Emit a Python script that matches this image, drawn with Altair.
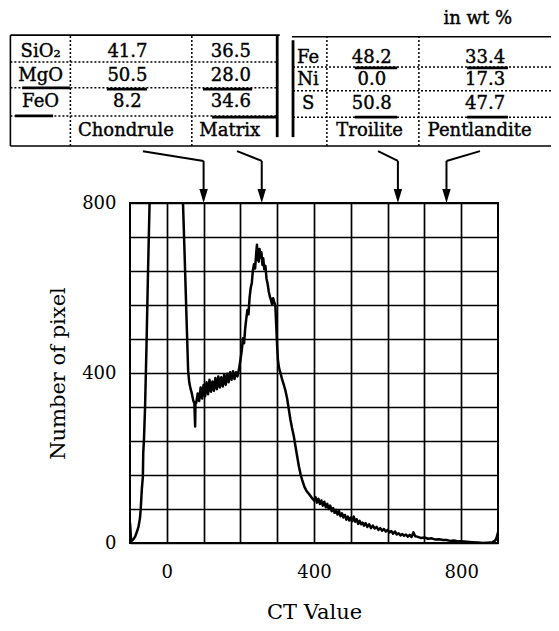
import altair as alt
import pandas as pd

FONT = "DejaVu Serif"

# ---------------- histogram (CT value, number of pixels) ----------------
left_peak = [(-100, 48), (-99, 36), (-98, 20), (-97, 4), (-94, 6), (-90, 10), (-86, 15),
             (-81, 27), (-77, 38), (-73, 58), (-71, 78), (-68, 125), (-65, 156), (-64, 212),
             (-62, 245), (-59, 321), (-55, 470), (-51, 640), (-47, 791), (-44, 900),
             (-20, 1850), (10, 1850), (40, 920), (44, 800), (48, 690), (52, 575), (55, 490),
             (58, 405), (61, 378), (64, 365), (68, 352), (72, 335), (75, 328), (77, 274),
             (78, 332)]
plateau = [(80, 330), (84, 352), (88, 334), (92, 366), (96, 340), (100, 372), (104, 345),
           (108, 378), (112, 350), (116, 384), (120, 356), (124, 380), (128, 358), (132, 388),
           (136, 362), (140, 392), (144, 366), (148, 390), (152, 368), (156, 396), (160, 372),
           (164, 398), (168, 378), (172, 402), (176, 384), (180, 404), (184, 386), (188, 402),
           (192, 392), (196, 408)]
matrix_peak = [(200, 430), (204, 455), (207, 482), (210, 470), (213, 505), (216, 528),
               (219, 548), (222, 538), (225, 578), (228, 600), (231, 612), (234, 642),
               (237, 656), (240, 646), (243, 682), (245, 702), (247, 670), (250, 662),
               (252, 692), (254, 672), (257, 684), (260, 654), (262, 670), (265, 644),
               (268, 652), (271, 622), (274, 610), (277, 592), (280, 580), (283, 572),
               (286, 562), (289, 576), (292, 566), (295, 558), (298, 500), (300, 460),
               (302, 430), (305, 412), (309, 400), (313, 386), (318, 372), (322, 360),
               (327, 340), (332, 312), (336, 290), (340, 272), (345, 252), (350, 226),
               (355, 200), (359, 180), (364, 160), (368, 148), (374, 132), (380, 122),
               (386, 116), (391, 110), (396, 104), (400, 100)]
tail = [(404, 108), (408, 95), (412, 104), (416, 92), (420, 100), (424, 88), (428, 97),
        (432, 84), (436, 92), (440, 80), (444, 88), (448, 75), (452, 82), (456, 71),
        (460, 78), (464, 67), (468, 75), (472, 63), (476, 70), (480, 60), (484, 66),
        (488, 55), (492, 62), (496, 53), (500, 60), (504, 51), (508, 62), (512, 50),
        (516, 56), (520, 45), (524, 52), (528, 44), (532, 48), (536, 41), (540, 47),
        (545, 38), (550, 44), (555, 35), (560, 41), (565, 34), (570, 38), (575, 31),
        (580, 35), (585, 29), (590, 33), (595, 27), (600, 31), (605, 25), (610, 28),
        (615, 22), (620, 27), (625, 20), (630, 23), (635, 18), (640, 21), (645, 17),
        (650, 20), (655, 15), (660, 19), (665, 14), (670, 25), (675, 16), (680, 15),
        (690, 12), (700, 13), (710, 10), (720, 11), (730, 8), (740, 9), (750, 7),
        (760, 7), (770, 5), (780, 6), (790, 4), (800, 4), (815, 3), (830, 2), (845, 1),
        (860, 0), (875, 1), (885, 2), (893, 6), (897, 15), (900, 25)]

# ---------------- axes ----------------
x_domain = [-100, 900]
y_domain = [0, 800]
x_grid = [0, 100, 200, 300, 400, 500, 600, 700, 800]
x_labels = [0, 400, 800]
y_grid = [0, 80, 160, 240, 320, 400, 480, 560, 640, 720, 800]
y_labels = [0, 400, 800]

# ---------------- composition tables ----------------
oxides = ["SiO\u2082", "MgO", "FeO"]
chondrule_wt = [41.7, 50.5, 8.2]
matrix_wt = [36.5, 28.0, 34.6]
elements = ["Fe", "Ni", "S"]
troilite_wt = [48.2, 0.0, 50.8]
pentlandite_wt = [33.4, 17.3, 47.7]
phases = ["Chondrule", "Matrix", "Troilite", "Pentlandite"]
phase_ct = [100, 258, 628, 760]          # CT value each arrow points at
unit_note = "in wt %"

# ---------------- layout, in the chart's own scale units ----------------
L_COLS = [-425, -262, 68, 302]           # left table edges (CT units)
R_COLS = [343, 435, 685, 1055]           # right table edges
L_TOP, R_TOP, T_BOTTOM = 1195, 1191, 934
L_SEPS = [1132, 1071, 1005]
R_SEPS = [1120, 1064, 1002]
L_TEXT_X = [-343, -107, 174]
R_TEXT_X = [384, 557, 865]
L_ROW_Y = [1155, 1099, 1037]
R_ROW_Y = [1142, 1090, 1032]
NAME_Y = 970
NAME_X = [-111, 171, 551, 850]
NOTE_X, NOTE_Y = 845, 1233
ARROW_FROM = [-65, 191, 574, 851]
ARROW_START_Y, ARROW_BEND_Y, ARROW_HEAD_Y = 922, 899, 816.5

curve = pd.DataFrame(left_peak + plateau + matrix_peak + tail, columns=["ct", "count"])

# text cells
cells = []
for i in range(3):
    cells.append((L_TEXT_X[0], L_ROW_Y[i], oxides[i]))
    cells.append((L_TEXT_X[1], L_ROW_Y[i], f"{chondrule_wt[i]:.1f}"))
    cells.append((L_TEXT_X[2], L_ROW_Y[i], f"{matrix_wt[i]:.1f}"))
    cells.append((R_TEXT_X[0], R_ROW_Y[i], elements[i]))
    cells.append((R_TEXT_X[1], R_ROW_Y[i], f"{troilite_wt[i]:.1f}"))
    cells.append((R_TEXT_X[2], R_ROW_Y[i], f"{pentlandite_wt[i]:.1f}"))
for k in range(4):
    cells.append((NAME_X[k], NAME_Y, phases[k]))
cells.append((NOTE_X, NOTE_Y, unit_note))
text_df = pd.DataFrame(cells, columns=["x", "y", "label"])

solid = pd.DataFrame([
    (L_COLS[0], L_COLS[3] + 5, L_TOP, L_TOP),
    (L_COLS[0], L_COLS[0], T_BOTTOM, L_TOP),
    (R_COLS[0] - 3, R_COLS[3], R_TOP, R_TOP),
    (L_COLS[0], R_COLS[3], T_BOTTOM, T_BOTTOM),
], columns=["x", "x2", "y", "y2"])

thick = pd.DataFrame([
    (L_COLS[3] - 2, L_COLS[3] - 2, 955, L_TOP),
    (R_COLS[0], R_COLS[0], 955, 1183),
    (-393, -263, L_SEPS[1], L_SEPS[1]),
    (-412, -309, L_SEPS[2], L_SEPS[2]),
    (-163, -54, L_SEPS[1] - 3, L_SEPS[1] - 3),
    (98, 232, L_SEPS[1] - 3, L_SEPS[1] - 3),
    (123, 302, L_SEPS[2] - 3, L_SEPS[2] - 3),
    (511, 626, R_SEPS[0] - 2, R_SEPS[0] - 2),
    (816, 927, R_SEPS[0] - 2, R_SEPS[0] - 2),
    (511, 626, R_SEPS[2], R_SEPS[2]),
    (816, 927, R_SEPS[2], R_SEPS[2]),
], columns=["x", "x2", "y", "y2"])

dotted_rows = [(L_COLS[0], L_COLS[3], s, s) for s in L_SEPS] + \
              [(R_COLS[0], R_COLS[3], s, s) for s in R_SEPS] + \
              [(c, c, T_BOTTOM, L_TOP) for c in L_COLS[1:3]] + \
              [(c, c, T_BOTTOM, R_TOP) for c in R_COLS[1:3]]
dotted = pd.DataFrame(dotted_rows, columns=["x", "x2", "y", "y2"])

arrow_rows = []
for k in range(4):
    arrow_rows.append((ARROW_FROM[k], phase_ct[k], ARROW_START_Y, ARROW_BEND_Y))
    arrow_rows.append((phase_ct[k], phase_ct[k], ARROW_BEND_Y, ARROW_HEAD_Y))
arrows = pd.DataFrame(arrow_rows, columns=["x", "x2", "y", "y2"])
heads = pd.DataFrame({"x": phase_ct, "y": [ARROW_HEAD_Y] * 4})

# ---------------- scales & axes ----------------
xs = alt.Scale(domain=x_domain, nice=False, zero=False)
ys = alt.Scale(domain=y_domain, nice=False, zero=False)


def label_expr(vals):
    return "indexof([" + ",".join(str(v) for v in vals) + "], datum.value) >= 0 ? datum.label : ''"


x_axis = alt.Axis(values=x_grid, labelExpr=label_expr(x_labels), title="CT Value",
                  grid=True, ticks=False, domain=False, labelPadding=20, titlePadding=20,
                  labelFlush=False, labelOverlap=False)
y_axis = alt.Axis(values=y_grid, labelExpr=label_expr(y_labels), title="Number of pixel",
                  grid=True, ticks=False, domain=False, labelPadding=14, titlePadding=13,
                  labelFlush=False, labelOverlap=False)


def X(f):
    return alt.X(f, type="quantitative", scale=xs, axis=x_axis)


def Y(f):
    return alt.Y(f, type="quantitative", scale=ys, axis=y_axis)


line = alt.Chart(curve).mark_line(clip=True, color="black", strokeWidth=2.5,
                                  strokeJoin="round").encode(
    x=X("ct"), y=Y("count"), order="ct:Q")

text = alt.Chart(text_df).mark_text(font=FONT, fontSize=18, color="black",
                                    stroke="black", strokeWidth=0.4,
                                    align="center", baseline="middle").encode(
    x=X("x"), y=Y("y"), text="label:N")


def rules(df, **kw):
    return alt.Chart(df).mark_rule(color="black", **kw).encode(
        x=X("x"), x2=alt.X2("x2"), y=Y("y"), y2=alt.Y2("y2"))


solid_l = rules(solid, strokeWidth=1.6)
thick_l = rules(thick, strokeWidth=2.8)
dotted_l = rules(dotted, strokeWidth=1.5, strokeDash=[2, 2])
arrow_l = rules(arrows, strokeWidth=2)
head_l = alt.Chart(heads).mark_point(shape="M-0.6,-1L0.6,-1L0,1Z", size=196, filled=True,
                                     color="black", opacity=1).encode(
    x=X("x"), y=Y("y"))

chart = alt.layer(line, dotted_l, solid_l, thick_l, arrow_l, head_l, text).properties(
    width=368, height=340,
    padding={"left": 122, "top": 195, "right": 53, "bottom": 80},
    autosize=alt.AutoSizeParams(type="none"),
    background="white",
).configure_view(stroke="black", strokeWidth=2).configure_axis(
    gridColor="black", gridWidth=1.7, gridOpacity=1,
    labelFont=FONT, labelFontSize=18, labelColor="black",
    titleFont=FONT, titleFontSize=21, titleFontWeight="normal", titleColor="black",
)

chart.save("out.html", embed_options={"renderer": "svg", "actions": False})
